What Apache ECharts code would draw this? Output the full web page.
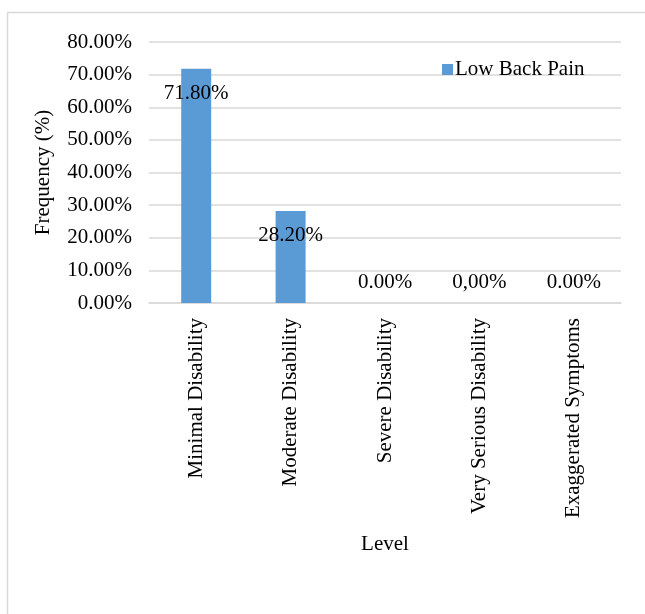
<!DOCTYPE html>
<html>
<head>
<meta charset="utf-8">
<script src="https://cdn.jsdelivr.net/npm/echarts@6/dist/echarts.min.js"></script>
<style>
  html, body { margin: 0; padding: 0; background: #fff; }
  #main { width: 645px; height: 614px; }
</style>
</head>
<body>
<div id="main"></div>
<script>
const levels = ['Minimal Disability', 'Moderate Disability', 'Severe Disability', 'Very Serious Disability', 'Exaggerated Symptoms'];
const lowBackPain = [71.8, 28.2, 0, 0, 0];
const valueLabels = ['71.80%', '28.20%', '0.00%', '0,00%', '0.00%'];

const font = '"Liberation Serif", "Times New Roman", serif';
const fs = 21;
const chart = echarts.init(document.getElementById('main'));

const barData = lowBackPain.map(function (v, i) {
  return {
    value: v,
    label: v > 0
      ? { position: 'insideTop', distance: 14 }
      : { position: 'top', distance: 10 }
  };
});

chart.setOption({
  animation: false,
  textStyle: { fontFamily: font },
  graphic: [{
    type: 'rect',
    left: 5, top: 10,
    shape: { width: 700, height: 700 },
    style: { fill: 'none', stroke: '#d9d9d9', lineWidth: 1.5 },
    silent: true
  }],
  legend: {
    left: 437, top: 54,
    itemWidth: 11, itemHeight: 11, itemGap: 4,
    icon: 'rect',
    textStyle: { fontFamily: font, fontSize: fs, color: '#000', padding: [0, 0, 0, -3] },
    data: ['Low Back Pain']
  },
  grid: { left: 149, right: 24, top: 42, bottom: 311, containLabel: false },
  xAxis: {
    type: 'category',
    data: levels,
    name: 'Level',
    nameLocation: 'middle',
    nameGap: 231,
    nameTextStyle: { fontFamily: font, fontSize: fs, color: '#000' },
    axisLine: { lineStyle: { color: '#d9d9d9', width: 1.5 } },
    axisTick: { show: false },
    axisLabel: { rotate: 90, fontFamily: font, fontSize: fs, color: '#000', margin: 15, interval: 0 }
  },
  yAxis: {
    type: 'value',
    min: 0, max: 80, interval: 10,
    name: 'Frequency (%)',
    nameLocation: 'middle',
    nameGap: 95,
    nameTextStyle: { fontFamily: font, fontSize: fs, color: '#000' },
    axisLine: { show: false },
    axisTick: { show: false },
    splitLine: { lineStyle: { color: '#d9d9d9', width: 1.5 } },
    axisLabel: {
      fontFamily: font, fontSize: fs, color: '#000', margin: 17,
      formatter: function (v) { return v.toFixed(2) + '%'; }
    }
  },
  series: [{
    name: 'Low Back Pain',
    type: 'bar',
    barWidth: 30,
    itemStyle: { color: '#5b9bd5' },
    label: {
      show: true,
      fontFamily: font, fontSize: fs, color: '#000',
      formatter: function (p) { return valueLabels[p.dataIndex]; }
    },
    data: barData
  }]
});
</script>
</body>
</html>
